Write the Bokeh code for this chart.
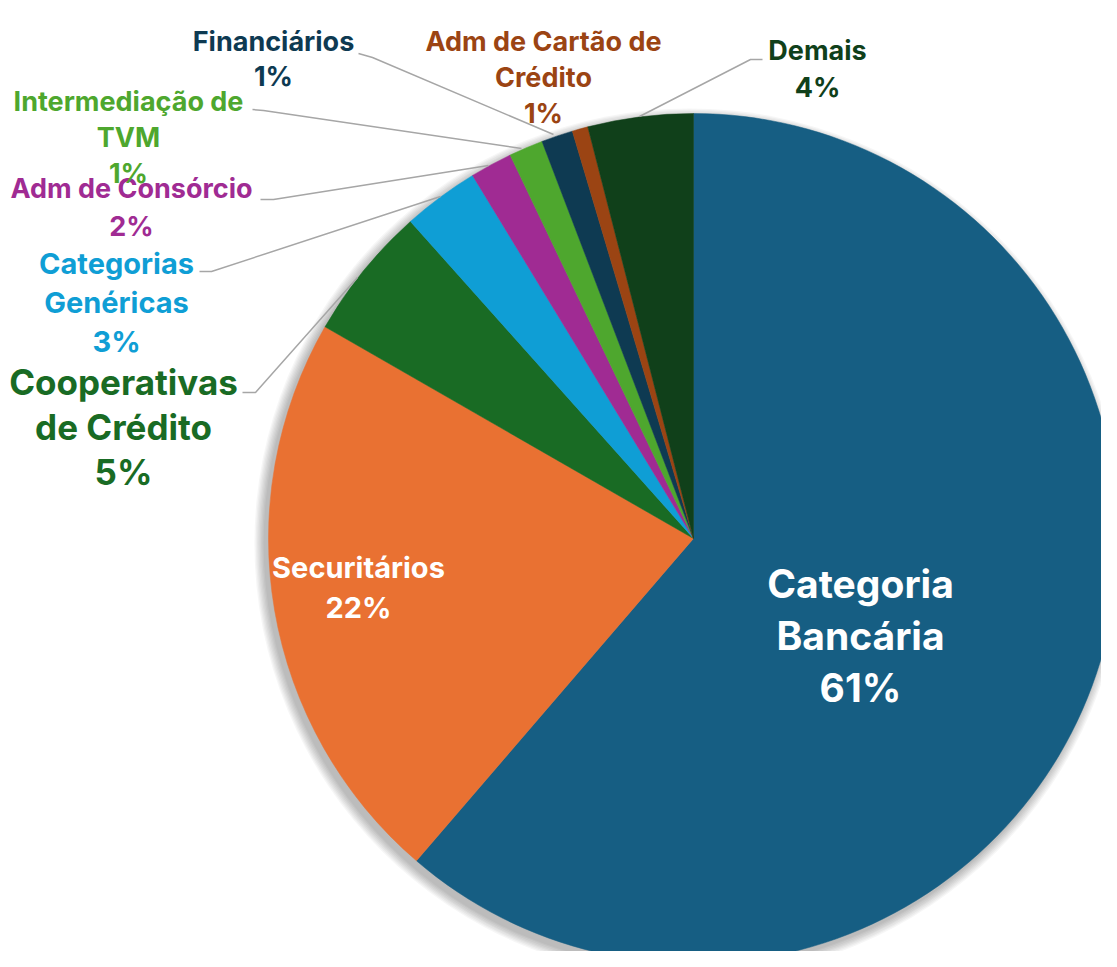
import numpy as np
from bokeh.plotting import figure
from bokeh.models import Range1d, ColumnDataSource
from bokeh.core.properties import value
from bokeh.embed import file_html
from bokeh.resources import INLINE

# ---- data ----
categories = ["Categoria Bancária", "Securitários", "Cooperativas de Crédito",
              "Categorias Genéricas", "Adm de Consórcio", "Intermediação de TVM",
              "Financiários", "Adm de Cartão de Crédito", "Demais"]
shares = [61.3, 22.0, 5.1, 2.9, 1.6, 1.3, 1.2, 0.6, 4.0]
colors = ["#165E83", "#E97132", "#196B24", "#0F9ED5", "#A02B93",
          "#4EA72E", "#0E3A52", "#9B4413", "#10401A"]
label_lines = [["Categoria", "Bancária"], ["Securitários"], ["Cooperativas", "de Crédito"],
               ["Categorias", "Genéricas"], ["Adm de Consórcio"], ["Intermediação de", "TVM"],
               ["Financiários"], ["Adm de Cartão de", "Crédito"], ["Demais"]]
pct_labels = [f"{round(s):.0f}%" if s >= 1 else "1%" for s in shares]

# ---- layout (screen-pixel coordinates, y measured from top) ----
W, H = 1101, 951
def Y(sy):
    return H - sy

cx, cy, R = 693, Y(538), 425
label_pos = [  # (center x, first-line y, line spacing, font size, text colour)
    (860, 583, 52, 39, "white"),
    (358, 567, 40, 29, "white"),
    (123, 381, 45, 35, None),
    (116, 263, 39, 29, None),
    (131, 188, 38, 27, None),
    (128, 101, 36, 27, None),
    (273, 41, 35, 27, None),
    (543, 41, 36, 27, None),
    (817, 50, 37, 27, None),
]
leaders = {
    2: [(242, 392), (255, 392), (357, 277)],
    3: [(199, 271), (211, 271), (440, 196)],
    4: [(260, 199), (273, 199), (488, 165)],
    5: [(252, 109), (263, 110), (521, 148)],
    6: [(358, 53), (372, 57), (553, 134)],
    8: [(762, 59), (750, 59), (639, 116)],
}

p = figure(width=W, height=H, output_backend="svg", toolbar_location=None,
           x_range=Range1d(0, W), y_range=Range1d(0, H), min_border=0)
p.axis.visible = False
p.grid.visible = False
p.outline_line_color = None
p.background_fill_color = "white"

# soft shadow
for k in range(8):
    p.circle(x=[cx - 4], y=[cy - 5], radius=R + 1 + k * 1.3,
             fill_color="black", fill_alpha=0.035, line_color=None)

# wedges, clockwise from 12 o'clock
cum = np.concatenate([[0], np.cumsum(shares)]) / sum(shares) * 2 * np.pi
start = np.pi / 2 - cum[1:]
end = np.pi / 2 - cum[:-1]
src = ColumnDataSource(dict(start=start, end=end, color=colors))
p.wedge(x=cx, y=cy, radius=R, start_angle="start", end_angle="end",
        fill_color="color", line_color="color", line_width=0.5, source=src)

# leader lines
for i, pts in leaders.items():
    p.line(x=[a for a, b in pts], y=[Y(b) for a, b in pts],
           line_color="#A6A6A6", line_width=1.5)

# labels
for i, (lx, ly, sp, fs, col) in enumerate(label_pos):
    lines = label_lines[i] + [pct_labels[i]]
    c = col if col else colors[i]
    p.text(x=[lx] * len(lines), y=[Y(ly + j * sp) for j in range(len(lines))],
           text=lines, text_align="center", text_baseline="middle",
           text_font=value("Inter"), text_font_style="bold",
           text_font_size=f"{fs}px", text_color=c)

open("out.html", "w").write(file_html(p, INLINE))
